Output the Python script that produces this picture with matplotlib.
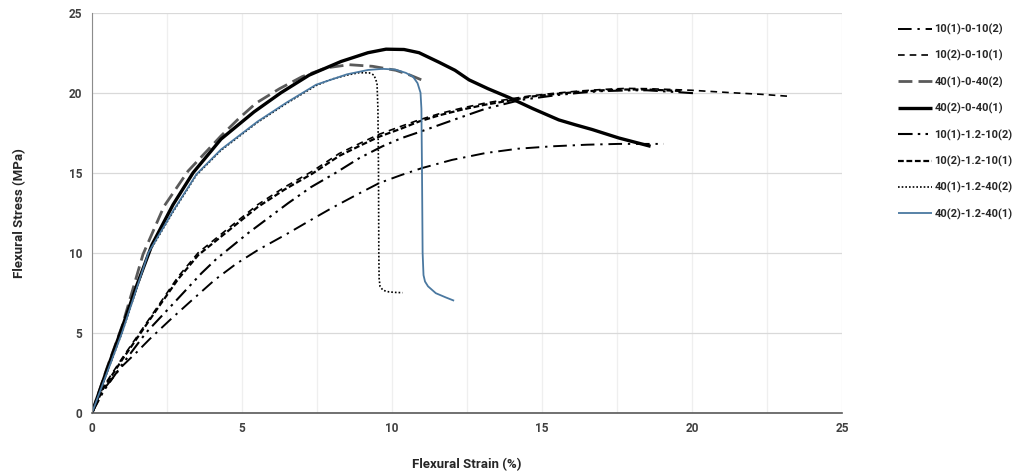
import matplotlib
matplotlib.use("Agg")
import matplotlib.pyplot as plt

plt.rcParams['font.family'] = ['Roboto', 'DejaVu Sans']
plt.rcParams['font.weight'] = 'bold'

# ---- flexural stress-strain data (strain %, stress MPa) ----
labels = ["10(1)-0-10(2)", "10(2)-0-10(1)", "40(1)-0-40(2)", "40(2)-0-40(1)",
          "10(1)-1.2-10(2)", "10(2)-1.2-10(1)", "40(1)-1.2-40(2)", "40(2)-1.2-40(1)"]

s10_1_0_x = [0, 0.37, 1.0, 1.5, 1.92, 2.6, 3.25, 4.09, 4.8, 5.54, 6.54, 7.3, 8.0, 8.8,
             9.57, 10.3, 11.0, 12.0, 13.12, 14.2, 15.34, 16.5, 17.56, 18.3, 19.06]
s10_1_0_y = [0, 1.42, 2.9, 3.8, 4.6, 5.8, 6.9, 8.3, 9.3, 10.18, 11.22, 12.05, 12.8, 13.6,
             14.35, 14.85, 15.29, 15.8, 16.23, 16.5, 16.65, 16.75, 16.8, 16.8, 16.8]

s10_2_0_x = [0, 0.37, 1.0, 1.59, 2.14, 2.87, 3.54, 4.2, 4.76, 5.52, 6.42, 7.35, 8.24, 9.0,
             9.57, 10.3, 10.9, 11.6, 12.35, 13.1, 13.9, 14.6, 15.34, 16.2, 17.0, 17.8,
             18.5, 19.3, 20.0, 20.7, 21.3, 22.3, 23.2]
s10_2_0_y = [0, 1.6, 3.4, 5.0, 6.5, 8.5, 10.0, 11.0, 11.85, 13.0, 14.1, 15.1, 16.2, 16.9,
             17.4, 17.9, 18.3, 18.7, 19.05, 19.35, 19.6, 19.8, 19.95, 20.1, 20.2, 20.27,
             20.25, 20.2, 20.15, 20.07, 20.0, 19.9, 19.78]

s40_1_0_x = [0, 0.5, 1.0, 1.7, 2.4, 3.2, 3.8, 4.3, 4.9, 5.47, 6.25, 7.0, 7.8, 8.57, 9.35,
             10.13, 10.6, 10.96, 11.12]
s40_1_0_y = [0, 2.8, 5.4, 9.9, 12.9, 15.1, 16.3, 17.3, 18.4, 19.35, 20.25, 21.0, 21.55,
             21.75, 21.65, 21.4, 21.1, 20.82, 20.7]

s40_2_0_x = [0, 0.5, 1.0, 1.5, 2.0, 2.7, 3.37, 4.3, 5.4, 6.3, 7.24, 8.3, 9.2, 9.8, 10.4,
             10.9, 11.57, 12.1, 12.57, 13.2, 13.9, 14.7, 15.56, 16.1, 16.67, 17.56, 18.62]
s40_2_0_y = [0, 2.7, 5.3, 8.0, 10.5, 13.0, 15.0, 17.1, 18.8, 20.0, 21.1, 21.95, 22.5,
             22.72, 22.7, 22.5, 21.9, 21.4, 20.8, 20.25, 19.7, 19.0, 18.3, 18.0, 17.7,
             17.17, 16.65]

s10_1_12_x = [0, 0.4, 1.0, 1.8, 2.7, 3.65, 4.14, 5.2, 6.54, 7.3, 8.13, 8.9, 9.68, 10.3,
              11.0, 12.2, 13.12, 14.3, 15.5, 16.3, 17.0, 18.0, 18.5, 19.4, 20.2]
s10_1_12_y = [0, 1.4, 3.0, 5.0, 6.8, 8.72, 9.6, 11.22, 13.1, 14.1, 15.0, 15.9, 16.65,
              17.15, 17.6, 18.4, 19.0, 19.55, 19.85, 20.0, 20.1, 20.15, 20.15, 20.05, 19.95]

s10_2_12_x = [0, 0.37, 1.0, 1.59, 2.14, 2.87, 3.54, 4.2, 4.76, 5.52, 6.42, 7.35, 8.24,
              9.0, 9.57, 10.3, 10.9, 11.6, 12.35, 13.1, 13.9, 14.6, 15.34, 16.2, 17.0,
              17.8, 18.5, 19.1, 19.7]
s10_2_12_y = [0, 1.5, 3.3, 4.9, 6.4, 8.35, 9.85, 10.85, 11.7, 12.85, 13.95, 14.95, 16.05,
              16.75, 17.25, 17.75, 18.2, 18.6, 18.95, 19.25, 19.5, 19.75, 19.9, 20.05,
              20.15, 20.2, 20.2, 20.15, 20.1]

s40_1_12_x = [0, 0.5, 1.0, 1.88, 2.7, 3.48, 4.3, 5.52, 6.5, 7.47, 8.0, 8.5, 8.9, 9.24, 9.4,
              9.5, 9.53, 9.55, 9.56, 9.57, 9.6, 9.7, 9.9, 10.1, 10.35]
s40_1_12_y = [0, 2.5, 5.0, 9.95, 12.55, 14.85, 16.4, 18.15, 19.35, 20.45, 20.85, 21.1, 21.25,
              21.24, 21.1, 20.6, 19.0, 15.0, 10.0, 8.4, 7.9, 7.65, 7.55, 7.52, 7.5]

s40_2_12_x = [0, 0.5, 1.0, 1.88, 2.7, 3.48, 4.3, 5.52, 6.5, 7.47, 8.5, 9.2, 9.68,
              10.1, 10.46, 10.7, 10.85, 10.95, 10.98, 11.0, 11.02, 11.05, 11.1, 11.2,
              11.46, 11.8, 12.07]
s40_2_12_y = [0, 2.5, 5.0, 10.0, 12.6, 14.9, 16.45, 18.2, 19.4, 20.5, 21.15, 21.42,
              21.49, 21.45, 21.24, 21.0, 20.6, 20.0, 19.0, 15.0, 10.0, 8.6, 8.2, 7.9,
              7.47, 7.2, 7.0]

series = [
    (s10_1_0_x, s10_1_0_y, dict(color='black', lw=1.4, dashes=(7, 3, 1.2, 3))),
    (s10_2_0_x, s10_2_0_y, dict(color='black', lw=1.2, dashes=(4, 3))),
    (s40_1_0_x, s40_1_0_y, dict(color='#5a5a5a', lw=2.0, dashes=(5, 2.2))),
    (s40_2_0_x, s40_2_0_y, dict(color='black', lw=2.4, ls='-')),
    (s10_1_12_x, s10_1_12_y, dict(color='black', lw=1.5, dashes=(7, 2.5, 1.2, 2.5, 1.2, 2.5))),
    (s10_2_12_x, s10_2_12_y, dict(color='black', lw=1.6, dashes=(2.6, 1.2))),
    (s40_1_12_x, s40_1_12_y, dict(color='black', lw=1.2, dashes=(1, 1.2))),
    (s40_2_12_x, s40_2_12_y, dict(color='#4a78a0', lw=1.3, ls='-')),
]

fig = plt.figure(figsize=(10.18, 4.72), dpi=100)
ax = fig.add_axes([0.0904, 0.1256, 0.7367, 0.8475])

for (x, y, st), lab in zip(series, labels):
    ax.plot(x, y, label=lab, solid_capstyle='butt', dash_capstyle='butt', **st)

ax.set_xlim(0, 25)
ax.set_ylim(0, 25)
ax.set_xticks([0, 5, 10, 15, 20, 25])
ax.set_yticks([0, 5, 10, 15, 20, 25])
ax.set_xticks([2.5, 7.5, 12.5, 17.5, 22.5], minor=True)
ax.grid(True, which='major', axis='y', color='#d9d9d9', lw=0.9)
ax.grid(True, which='both', axis='x', color='#efefef', lw=0.9)
ax.set_axisbelow(True)
ax.tick_params(which='both', length=0, labelsize=8.5, labelcolor='#404040', pad=7)
for lbl in ax.get_xticklabels() + ax.get_yticklabels():
    lbl.set_fontweight('bold')

for side in ('top', 'right'):
    ax.spines[side].set_visible(False)
ax.spines['left'].set_color('#8c8c8c')
ax.spines['bottom'].set_color('#595959')
ax.spines['bottom'].set_linewidth(1.2)

ax.set_xlabel('Flexural Strain (%)', fontsize=9.5, fontweight='bold', color='#262626', labelpad=16)
ax.set_ylabel('Flexural Stress (MPa)', fontsize=9.5, fontweight='bold', color='#262626', labelpad=31)

leg = fig.legend(loc='upper left', bbox_to_anchor=(0.878, 0.959), frameon=False,
                 fontsize=8, handlelength=3.0, handletextpad=0.25, labelspacing=1.36,
                 borderaxespad=0)
for t in leg.get_texts():
    t.set_fontweight('bold')
    t.set_color('#262626')

fig.savefig('out.png', dpi=100)
